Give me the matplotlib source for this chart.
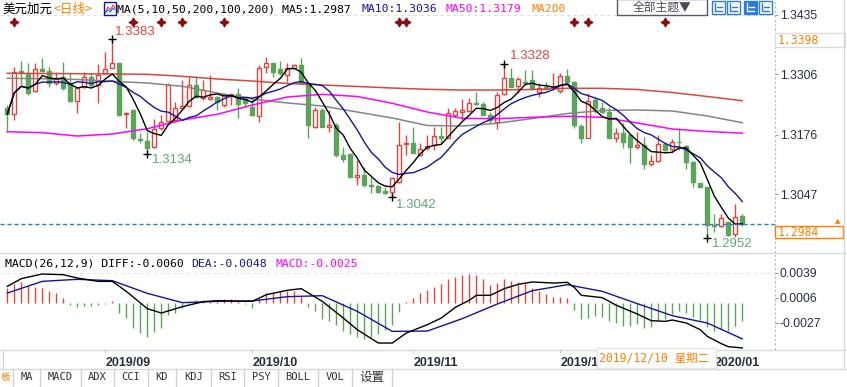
import numpy as np
import pandas as pd
import matplotlib
matplotlib.use('Agg')
import matplotlib.pyplot as plt
from matplotlib.patches import Rectangle
import matplotlib.transforms as mtrans

plt.rcParams['axes.unicode_minus'] = False

# ---------------- data (USD/CAD daily) ----------------
opens = [1.32326,1.32204,1.33131,1.33059,1.32707,1.33174,1.33131,1.32865,1.32995,1.32865,
         1.32484,1.32793,1.32995,1.32829,1.33095,1.33203,1.33297,1.32204,1.3229,1.31657,
         1.31621,1.31485,1.31895,1.3206,1.32074,1.3234,1.32376,1.32829,1.32542,1.32527,
         1.32578,1.32398,1.326,1.32635,1.32542,1.32362,1.32161,1.3321,1.33297,1.3318,
         1.33045,1.33189,1.33261,1.32865,1.31931,1.3229,1.31931,1.31967,1.3132,1.31341,
         1.30852,1.30888,1.30672,1.30651,1.3055,1.30529,1.30744,1.3155,1.31571,1.3132,
         1.31463,1.31535,1.31736,1.31693,1.32182,1.32254,1.32276,1.32434,1.32412,1.32182,
         1.32024,1.32628,1.32988,1.32808,1.32887,1.32937,1.32686,1.32793,1.32757,1.32709,
         1.33025,1.32903,1.31946,1.31695,1.32507,1.32327,1.32256,1.31695,1.31788,1.31752,
         1.31501,1.31537,1.3112,1.31199,1.31551,1.31443,1.31608,1.31522,1.31177,1.3071,
         1.30623,1.29811,1.2979,1.29883,1.29617,1.30005]
highs = [1.32398,1.33225,1.33354,1.33297,1.33311,1.33405,1.33225,1.33103,1.33333,1.33081,
         1.32793,1.33117,1.33081,1.33282,1.33548,1.3383,1.33311,1.32254,1.3232,1.31787,
         1.31823,1.32089,1.32182,1.32865,1.3247,1.32937,1.33009,1.33023,1.32937,1.33045,
         1.32592,1.3265,1.32635,1.32757,1.32563,1.32542,1.33261,1.3344,1.33311,1.33340,
         1.33297,1.33282,1.33405,1.3287,1.32362,1.32326,1.3229,1.32003,1.31499,1.31341,
         1.31212,1.31068,1.30852,1.30672,1.30636,1.30852,1.32038,1.31751,1.31931,1.31571,
         1.31751,1.31916,1.31916,1.32326,1.32326,1.3252,1.32542,1.32686,1.3247,1.32254,
         1.32686,1.3328,1.33189,1.32995,1.33153,1.33153,1.32865,1.32901,1.33095,1.33082,
         1.33169,1.3292,1.31982,1.32651,1.32565,1.32471,1.32363,1.31896,1.32004,1.3176,
         1.31824,1.31716,1.31321,1.31752,1.31572,1.31666,1.3191,1.31537,1.31185,1.30724,
         1.3063,1.30048,1.30048,1.29883,1.30264,1.30048]
lows = [1.31823,1.32074,1.32829,1.32614,1.32686,1.33117,1.32793,1.32829,1.32721,1.3247,
        1.32218,1.32757,1.32793,1.32448,1.33081,1.33189,1.32161,1.31895,1.31643,1.31571,
        1.3134,1.31463,1.31859,1.32038,1.32038,1.32326,1.32362,1.32542,1.32506,1.32506,
        1.3229,1.32362,1.32398,1.3211,1.32362,1.32161,1.32038,1.33081,1.33009,1.33045,
        1.32901,1.33167,1.32865,1.31679,1.31895,1.31916,1.31823,1.31283,1.31176,1.30838,
        1.30672,1.30636,1.30507,1.30507,1.30478,1.3042,1.30723,1.3132,1.31355,1.31298,
        1.31427,1.31427,1.31571,1.31679,1.32146,1.32074,1.32254,1.32398,1.32182,1.32002,
        1.31873,1.32614,1.32793,1.3265,1.32829,1.32721,1.32578,1.32721,1.32721,1.32651,
        1.32867,1.31896,1.31572,1.3168,1.3222,1.3222,1.3168,1.31608,1.31465,1.31141,
        1.31443,1.31012,1.31084,1.31177,1.31414,1.31414,1.31429,1.31012,1.30623,1.3062,
        1.2952,1.29667,1.29761,1.29574,1.29545,1.29797]
closes = [1.32204,1.33117,1.33081,1.3265,1.33167,1.33139,1.32865,1.32973,1.32757,1.32484,
          1.32757,1.32995,1.32829,1.33045,1.33174,1.33297,1.32182,1.32233,1.31679,1.31643,
          1.31478,1.31873,1.32038,1.32829,1.32326,1.32376,1.32829,1.32578,1.32721,1.32578,
          1.3247,1.32614,1.32635,1.3242,1.32434,1.32182,1.33189,1.33297,1.33117,1.3308,
          1.33189,1.33261,1.32865,1.31967,1.3229,1.31931,1.31967,1.3132,1.31226,1.30852,
          1.30888,1.30672,1.30651,1.30529,1.30493,1.30816,1.31535,1.31571,1.3137,1.31442,
          1.31514,1.31736,1.31679,1.32218,1.32269,1.3229,1.32434,1.3242,1.32182,1.32074,
          1.32614,1.32973,1.32793,1.32952,1.32865,1.32757,1.32757,1.32736,1.32793,1.33025,
          1.32903,1.31968,1.31695,1.32493,1.32342,1.32241,1.31695,1.31788,1.31608,1.31501,
          1.31537,1.3112,1.31191,1.31551,1.31429,1.31594,1.31594,1.31177,1.30746,1.30638,
          1.29811,1.29797,1.29955,1.29595,1.29976,1.2984]

# long moving averages (every 5th session)
ma_long_idx = list(range(0, 106, 5))
ma200 = [1.33082,1.33077,1.33073,1.33066,1.3306,1.33017,1.32959,1.32915,1.32861,1.32829,1.32797,
         1.32764,1.32736,1.32721,1.32721,1.32732,1.32758,1.32758,1.32732,1.32667,1.32581,1.3249]
ma100 = [1.32974,1.32965,1.32948,1.32909,1.32872,1.32801,1.32656,1.32527,1.32441,1.32376,1.32246,
         1.32117,1.31955,1.31944,1.32003,1.32106,1.32214,1.32279,1.3229,1.32268,1.3216,1.32016]
ma50 = [1.31821,1.3180,1.31728,1.31772,1.31886,1.32074,1.32197,1.32397,1.3257,1.32628,1.32581,
        1.32434,1.32246,1.3211,1.32102,1.32132,1.32154,1.32132,1.32009,1.3188,1.31826,1.3179]

# MACD(26,12,9)
diff_idx = [0,2,5,8,10,13,15,17,20,22,25,28,30,35,37,40,42,45,48,50,53,55,57,60,62,64,66,67,69,71,
            73,75,78,80,81,82,85,87,90,92,94,95,97,99,100,102,103,105]
diff = [0.00213,0.00315,0.00376,0.00367,0.00323,0.00279,0.00279,0.00147,-0.00081,-0.00139,
        -0.00055,0.00011,0.00024,0.00015,0.00103,0.00161,0.00183,0.00015,-0.00205,-0.00359,
        -0.00535,-0.00535,-0.00403,-0.00293,-0.00205,-0.00064,0.00029,0.00095,0.00095,0.00183,
        0.0024,0.00271,0.00257,0.00266,0.002,0.00095,0.00064,-0.00037,-0.00152,-0.0024,
        -0.00249,-0.00231,-0.00271,-0.00359,-0.00447,-0.00543,-0.00583,-0.0060]
dea_idx = list(range(0, 106, 5))
dea = [0.00125,0.00279,0.00306,0.00288,0.00121,-0.00002,0.00015,0.0002,0.00077,0.0009,-0.00117,
       -0.00381,-0.00377,-0.00213,-0.0002,0.00156,0.00235,0.00147,-0.00015,-0.00174,-0.00271,-0.0048]
macd_hist = [0.00198,0.0025,0.00277,0.0022,0.00207,0.00198,0.00154,0.00119,0.00053,
             -0.00035,-0.00057,-0.00048,-0.00048,-0.00035,-0.00022,
             0.00018,
             -0.00145,-0.00211,-0.0033,-0.00396,-0.00449,-0.00383,-0.0033,-0.00163,-0.00132,-0.00066,
             0.0001,0.0003,0.0003,0.0003,0.00022,0.0004,0.0004,0.0003,
             -0.00022,-0.00066,
             0.00044,0.00119,0.00145,0.00154,0.00154,0.00154,0.00088,
             -0.00057,-0.0011,-0.0022,-0.00242,-0.0030,-0.0038,-0.0042,-0.0046,-0.0048,-0.0046,
             -0.0042,-0.0036,-0.0030,-0.0013,
             0.00013,0.00066,0.00119,0.00163,0.00211,0.00242,0.00308,0.00343,0.00361,0.00374,
             0.00361,0.00308,0.00229,0.00255,0.00304,0.00286,0.00273,0.00264,0.00198,0.00154,
             0.0011,0.00079,0.00079,0.00053,
             -0.00101,-0.0022,-0.00198,-0.00176,-0.00189,-0.00242,-0.00264,-0.00308,-0.00308,
             -0.00286,-0.00339,-0.00321,-0.00242,-0.0022,-0.00154,-0.0011,-0.00132,-0.00189,
             -0.00233,-0.00321,-0.00374,-0.00352,-0.00374,-0.00308,-0.0025]

event_idx = [1, 18, 22, 25, 31, 56, 57, 81, 83, 94]
price_ticks = [1.3435, 1.3306, 1.3176, 1.3047]
macd_ticks = [0.0039, 0.0006, -0.0027]
start_date = '2019-08-13'
cross_price = '1.3398'
cross_date = '2019/12/10 星期二'
toolbar = ['MA', 'MACD', 'ADX', 'CCI', 'KD', 'KDJ', 'RSI', 'PSY', 'BOLL', 'VOL', '设置']

# ---------------- figure ----------------
W, H = 847, 387
fig = plt.figure(figsize=(W / 100, H / 100), dpi=100)
fig.patch.set_facecolor('white')

def box(x0, y0, x1, y1):
    return [x0 / W, 1 - y1 / H, (x1 - x0) / W, (y1 - y0) / H]

ax = fig.add_axes(box(0, 0, 775, 252))
axm = fig.add_axes(box(0, 255, 775, 349))
bg = fig.add_axes([0, 0, 1, 1], zorder=10)
bg.set_xlim(0, W); bg.set_ylim(H, 0); bg.axis('off'); bg.patch.set_alpha(0)

RED = '#e0443c'; GRN = '#5aa55a'; NAVY = '#14149c'; MAG = '#ff00ff'; ORG = '#ff8000'
TXT = '#2a2d3e'
MONO = ['DejaVu Sans Mono', 'Noto Sans CJK SC']
CJK = ['Noto Sans CJK SC', 'DejaVu Sans']

o = np.array(opens); c = np.array(closes); h = np.array(highs); l = np.array(lows)
n = len(c); idx = np.arange(n)
up = c > o
blo = np.minimum(o, c); bhi = np.maximum(o, c)

ax.vlines(idx[~up], l[~up], h[~up], color=GRN, lw=1, zorder=2)
ax.bar(idx[~up], (bhi - blo)[~up], bottom=blo[~up], width=0.62, color=GRN,
       edgecolor=GRN, lw=1, zorder=2)
ax.vlines(idx[up], l[up], blo[up], color=RED, lw=1, zorder=2)
ax.vlines(idx[up], bhi[up], h[up], color=RED, lw=1, zorder=2)
ax.bar(idx[up], (bhi - blo)[up], bottom=blo[up], width=0.62, facecolor='white',
       edgecolor=RED, lw=1, zorder=2)

s = pd.Series(c)
ax.plot(ma_long_idx, ma200, color='#d9473a', lw=1.1, zorder=3)
ax.plot(ma_long_idx, ma100, color='#858585', lw=1.1, zorder=3)
ax.plot(ma_long_idx, ma50, color=MAG, lw=1.1, zorder=3)
ax.plot(idx, s.rolling(10, min_periods=1).mean(), color=NAVY, lw=1, zorder=4)
ax.plot(idx, s.rolling(5, min_periods=1).mean(), color='black', lw=1, zorder=4)

ax.set_xlim(-7.3 / 7, (775 - 7.3) / 7)
ax.set_ylim(1.3306 - (252 - 74.3) * 0.0002158, 1.3306 + 74.3 * 0.0002158)

ax.axhline(price_ticks[0], color='#dddddd', lw=0.8, ls=(0, (3, 3)), zorder=1)
ax.axhline(c[-1], color='#2a7ad8', lw=1, ls=(0, (3, 2)), zorder=5)

# event markers
tr = mtrans.blended_transform_factory(ax.transData, ax.transAxes)
ax.scatter(event_idx, [1 - 22 / 252] * len(event_idx), transform=tr, marker=(4, 1, 0),
           s=38, color='#8b0d0d', zorder=6, clip_on=False)

# extremes
def extreme(i, val, dx, dy, col):
    ax.plot([i], [val], marker='+', color='black', ms=5.5, mew=1, zorder=6)
    ax.annotate(f'{val:.4f}', (i, val), xytext=(dx, dy), textcoords='offset pixels',
                ha='left', va='center', color=col, fontsize=9.5, family='Liberation Sans',
                zorder=7)

ihi = int(np.argmax(h[:40])); extreme(ihi, h[ihi], 3, 7, RED)
i1 = int(np.argmin(l[:40])); extreme(i1, l[i1], 5, -6, '#5fa877')
i2 = 40 + int(np.argmin(l[40:70])); extreme(i2, l[i2], 4, -8, '#5fa877')
i3 = 60 + int(np.argmax(h[60:90])); extreme(i3, h[i3], 6, 8, RED)
i4 = int(np.argmin(l)); extreme(i4, l[i4], 5, -6, '#5fa877')

for a in (ax, axm):
    a.set_facecolor('white')
    for sp in ('top', 'left', 'bottom'):
        a.spines[sp].set_visible(False)
    a.spines['right'].set_color('#b8b8b8')
    a.spines['right'].set_linestyle((0, (1, 3)))
    a.yaxis.tick_right()
    a.tick_params(axis='y', length=2, width=0.8, color='#999999', pad=1.5,
                  labelsize=8.7, labelcolor=TXT)

ax.set_yticks(price_ticks)
ax.set_yticklabels([f'{v:.4f}' for v in price_ticks], family='Liberation Sans')
ax.set_xticks([])

# MACD panel
mh = np.array(macd_hist)
axm.vlines(idx, 0, mh, colors=np.where(mh >= 0, RED, GRN), lw=1, zorder=2)
axm.plot(dea_idx, dea, color=NAVY, lw=1, zorder=3)
axm.plot(diff_idx, diff, color='black', lw=1, zorder=3)
axm.set_xlim(ax.get_xlim())
axm.set_ylim((302.5 - 349) * 0.000132, (302.5 - 255) * 0.000132)
axm.axhline(macd_ticks[0], color='#e2e2e2', lw=0.8, ls=(0, (3, 3)), zorder=1)
axm.set_yticks(macd_ticks)
axm.set_yticklabels([f'{v:.4f}' for v in macd_ticks], family='Liberation Sans')

dates = pd.bdate_range(start_date, periods=n)
per = dates.to_period('M')
mstart = [i for i in range(1, n) if per[i] != per[i - 1]]
axm.set_xticks(mstart)
axm.set_xticklabels([dates[i].strftime('%Y/%m') for i in mstart], ha='left',
                    fontsize=9, fontweight='bold', color=TXT, family='Liberation Sans')
axm.tick_params(axis='x', length=3, width=0.8, color='#c8c8c8', pad=2.5)
# the last month label sits just right of the crosshair date box
axm.get_xticklabels()[-1].set_x(mstart[-1] + 0.4)

# ---------------- frame lines ----------------
for yy in (252.5, 349.5, 368.5):
    bg.plot([0, W], [yy, yy], color='#d6d9de', lw=1)
bg.plot([844, 844], [0, 368], color='#d6d9de', lw=1)
bg.plot([2.5, 2.5], [349.5, 368.5], color='#d6d9de', lw=1)

# ---------------- header ----------------
bg.text(2, 9, '美元加元', family=CJK, fontsize=9, color='black', va='center')
bg.text(53, 9, '<日线>', family=CJK, fontsize=9, color=ORG, va='center')
bg.add_patch(Rectangle((104, 2), 12, 13, facecolor='white', edgecolor=NAVY, lw=1))
bg.plot([105.5, 108, 110.5, 113, 115], [12, 7, 10, 5, 8], color=RED, lw=0.8)
bg.plot([105.5, 108, 110.5, 113, 115], [13, 10, 12, 8, 10], color='#2a7ad8', lw=0.8)
bg.text(117, 9, 'MA(5,10,50,200,100,200) MA5:1.2987', family=MONO, fontsize=8.25,
        color='black', va='center')
bg.text(361, 9, 'MA10:1.3036', family=MONO, fontsize=8.25, color=NAVY, va='center')
bg.text(446, 9, 'MA50:1.3179', family=MONO, fontsize=8.25, color=MAG, va='center')
bg.text(532, 9, 'MA200', family=MONO, fontsize=8.25, color=ORG, va='center')

bg.add_patch(Rectangle((617, -1), 90, 16, facecolor='white', edgecolor='#555a66', lw=1))
bg.text(662, 7.5, '全部主题▼', family=CJK, fontsize=8.5, color='#4a4a55', ha='center',
        va='center')
for k, xx in enumerate([712, 727, 744, 759]):
    filled = (k == 2)
    bg.add_patch(Rectangle((xx, 1), 13, 13, facecolor='#2a7ad8' if filled else 'white',
                           edgecolor='#2a7ad8', lw=1))
    lc = 'white' if filled else '#2a7ad8'
    bg.plot([xx + 3, xx + 3, xx + 10], [3, 11, 11], color=lc, lw=1)
    bg.plot([xx + 5, xx + 10], [7, 7], color=lc, lw=1)

# right-axis boxes
bg.add_patch(Rectangle((775, 33), 70, 14, facecolor='white', edgecolor='#dcdcdc', lw=1))
bg.text(778, 40, cross_price, family=MONO, fontsize=8.3, color=ORG, va='center')
bg.add_patch(Rectangle((774.5, 225.5), 68, 12.5, facecolor='white', edgecolor=ORG, lw=1))
bg.text(778, 232, f'{c[-1]:.4f}', family=MONO, fontsize=8.3, color=ORG, va='center')
bg.text(838, 221, '▲', family=['DejaVu Sans'], fontsize=5, color=ORG, ha='center',
        va='center')

# MACD header
bg.text(5, 264, 'MACD(26,12,9) DIFF:-0.0060', family=MONO, fontsize=8.25, color='black',
        va='center')
bg.text(191, 264, 'DEA:-0.0048', family=MONO, fontsize=8.25, color=NAVY, va='center')
bg.text(276, 264, 'MACD:-0.0025', family=MONO, fontsize=8.25, color=MAG, va='center')

# crosshair date box
bg.add_patch(Rectangle((597, 348), 119, 20, facecolor='white', edgecolor='#e4e4e4', lw=1,
                       zorder=20))
bg.text(599, 358, cross_date, family=MONO, fontsize=8.3, color=ORG, va='center', zorder=21)

# bottom toolbar
seps = [13, 40, 81, 114, 148, 176, 211, 244, 278, 318, 352, 392]
for xx in seps:
    bg.plot([xx, xx], [369, 387], color='#cfd2d8', lw=1)
bg.text(1, 377, '板', family=CJK, fontsize=7, color=ORG, va='center')
for k, lab in enumerate(toolbar):
    cx = (seps[k] + seps[k + 1]) / 2
    bg.text(cx, 377, lab, family=MONO if lab.isascii() else CJK,
            fontsize=7.5 if lab.isascii() else 9, color='#333333', ha='center', va='center')

fig.savefig('out.png', dpi=100, facecolor='white')
